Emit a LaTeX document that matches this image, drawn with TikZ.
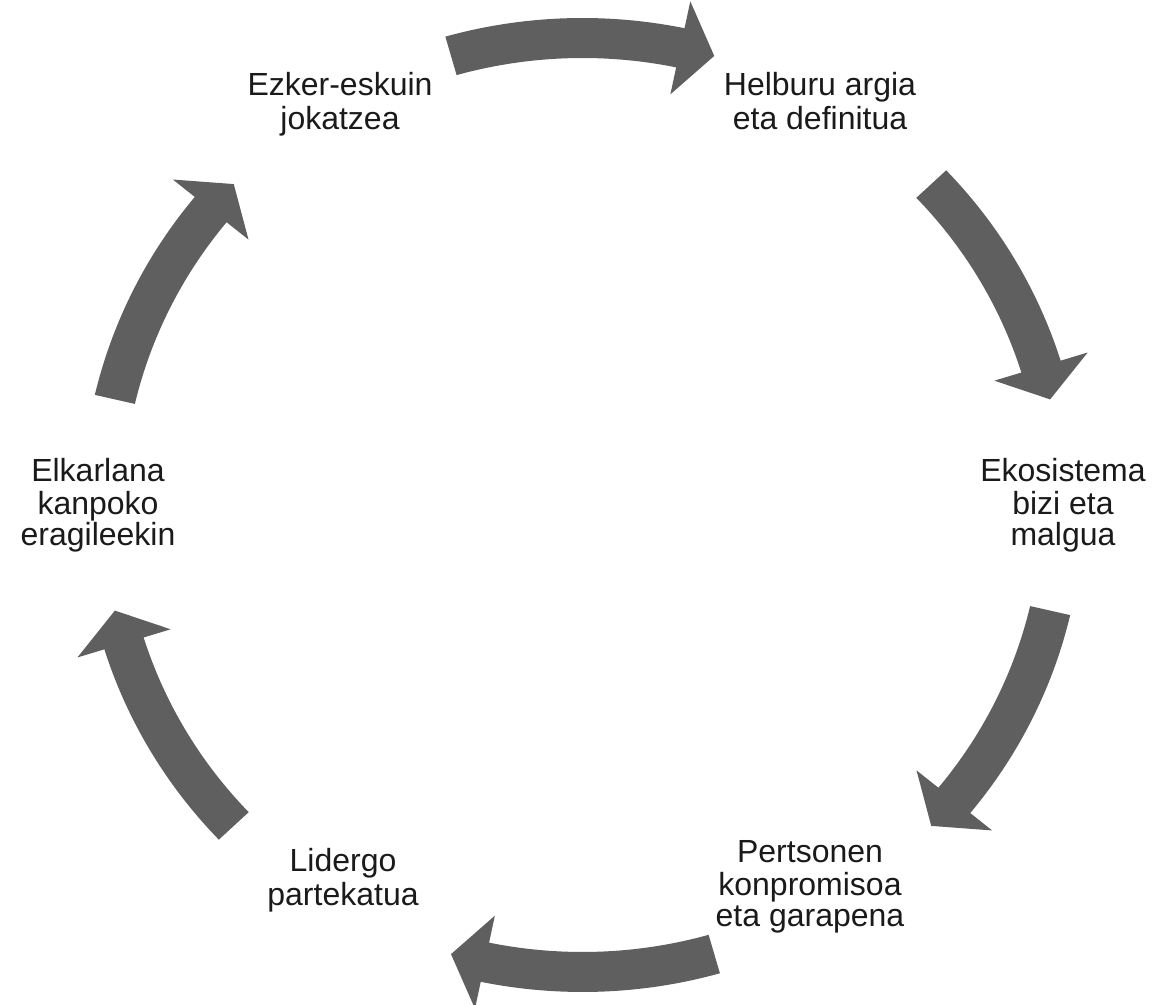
\documentclass[tikz,border=0pt]{standalone}
\usepackage{fontspec}
\setmainfont{Liberation Sans}
\definecolor{arrowgray}{HTML}{5F5F5F}
\definecolor{txt}{HTML}{1A1A1A}
\newcommand{\cycarrow}[3]{%
  \pgfmathsetmacro{\cyAB}{#3+4.17}%
  \pgfmathsetmacro{\cyRO}{#1+20}%
  \pgfmathsetmacro{\cyRI}{#1-20}%
  \pgfmathsetmacro{\cyHO}{#1+47.5}%
  \pgfmathsetmacro{\cyHI}{#1-47.5}%
  \fill[cyc] (#2:\cyRO) arc[start angle=#2, end angle=\cyAB, radius=\cyRO]
    -- (\cyAB:\cyHO) -- (#3:#1) -- (\cyAB:\cyHI) -- (\cyAB:\cyRI)
    arc[start angle=\cyAB, end angle=#2, radius=\cyRI] -- cycle;}
\begin{document}
\begin{tikzpicture}[x=1pt,y=1pt,
  lbl/.style={align=center, inner sep=0pt, text=txt, font=\fontsize{32}{30.5}\selectfont},
  cyc/.style={fill=arrowgray}]
\useasboundingbox (0,0) rectangle (1167,1004);
\coordinate (O) at (582.5,499);
\node[lbl] (ezker) at (340,898.5) {\strut Ezker-eskuin\\jokatzea\strut};
\node[lbl] (helburu) at (820,898.5) {\strut Helburu argia\\eta definitua\strut};
\node[lbl] (ekosis) at (1063,497.5) {\strut Ekosistema\\bizi eta\\malgua\strut};
\node[lbl] (pertson) at (810,116) {\strut Pertsonen\\konpromisoa\\eta garapena\strut};
\node[lbl] (lidergo) at (343,122.5) {\strut Lidergo\\partekatua\strut};
\node[lbl] (elkar) at (98,497.5) {\strut Elkarlana\\kanpoko\\eragileekin\strut};
\begin{scope}[shift={(O)}, xscale=1.028]
  \cycarrow{467}{105.9}{74.07}
  \cycarrow{467}{43.41}{13.07}
  \cycarrow{467}{-13.07}{-43.41}
  \cycarrow{467}{-74.07}{-105.9}
  \cycarrow{467}{223.41}{193.07}
  \cycarrow{467}{166.93}{136.59}
\end{scope}
\end{tikzpicture}
\end{document}
